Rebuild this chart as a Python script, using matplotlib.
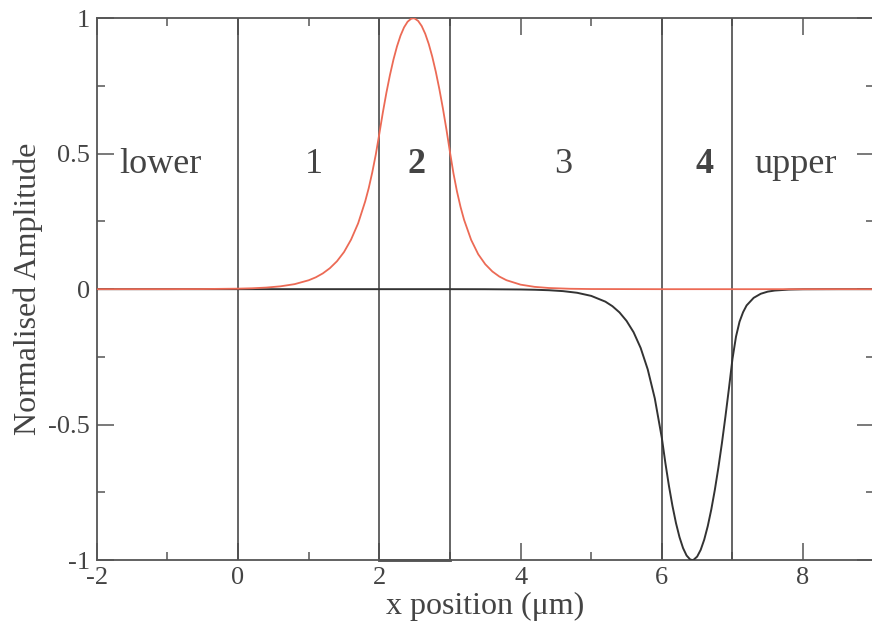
import matplotlib
matplotlib.use("Agg")
import matplotlib.pyplot as plt
from matplotlib.ticker import FixedLocator, FixedFormatter, MultipleLocator

plt.rcParams['font.family'] = ['Liberation Serif', 'DejaVu Serif']
plt.rcParams['mathtext.fontset'] = 'stix'

# ---- data ----
red_x = [-2.0, -1.0, -0.5, 0.0, 0.2, 0.4, 0.6, 0.8, 1.0, 1.1, 1.2, 1.3, 1.4, 1.5,
         1.6, 1.7, 1.8, 1.85, 1.9, 1.95, 2.0, 2.05, 2.1, 2.15, 2.2, 2.25, 2.3,
         2.35, 2.4, 2.45, 2.48, 2.5, 2.55, 2.6, 2.65, 2.7, 2.75, 2.8, 2.85, 2.9,
         2.95, 3.0, 3.05, 3.1, 3.15, 3.2, 3.3, 3.4, 3.5, 3.6, 3.7, 3.8, 4.0,
         4.2, 4.4, 4.7, 5.0, 6.0, 7.0, 8.0, 9.0]
red_y = [0.0, 0.0001, 0.0005, 0.0019, 0.0033, 0.0059, 0.0105, 0.0185, 0.0329,
         0.0437, 0.0582, 0.0775, 0.103, 0.137, 0.183, 0.243, 0.324, 0.373, 0.431,
         0.497, 0.5735, 0.6524, 0.7248, 0.7900, 0.8473, 0.8961, 0.9359, 0.9664,
         0.9872, 0.9982, 1.0, 0.9992, 0.9902, 0.9713, 0.9428, 0.9048, 0.8577,
         0.8021, 0.7385, 0.6675, 0.5898, 0.5062, 0.427, 0.360, 0.3035, 0.256,
         0.182, 0.129, 0.092, 0.0654, 0.0465, 0.0331, 0.0167, 0.0085, 0.0043,
         0.0015, 0.0005, 0.0, 0.0, 0.0, 0.0]

black_x = [-2.0, 0.0, 2.0, 3.0, 3.5, 4.0, 4.2, 4.4, 4.6, 4.8, 5.0, 5.2, 5.3, 5.4,
           5.5, 5.6, 5.7, 5.8, 5.9, 6.0, 6.05, 6.1, 6.15, 6.2, 6.25, 6.3, 6.35,
           6.4, 6.43, 6.45, 6.5, 6.55, 6.6, 6.65, 6.7, 6.75, 6.8, 6.85, 6.9,
           6.95, 7.0, 7.05, 7.1, 7.15, 7.2, 7.3, 7.4, 7.5, 7.6, 7.8, 8.0, 8.5, 9.0]
black_y = [0.0, 0.0, 0.0, 0.0, -0.0002, -0.0011, -0.0021, -0.0039, -0.0072,
           -0.0133, -0.0248, -0.046, -0.0628, -0.0857, -0.117, -0.159, -0.217,
           -0.296, -0.403, -0.5494, -0.6417, -0.7256, -0.7997, -0.8634, -0.9155,
           -0.9556, -0.9831, -0.9976, -1.0, -0.9989, -0.9871, -0.9622, -0.9245,
           -0.8747, -0.8133, -0.7412, -0.6594, -0.5693, -0.4706, -0.3661, -0.257,
           -0.175, -0.12, -0.085, -0.06, -0.032, -0.017, -0.009, -0.005, -0.0015,
           -0.0004, 0.0, 0.0]

boundaries = [0, 2, 3, 6, 7]
region_labels = ["lower", "1", "2", "3", "4", "upper"]
region_x = [-1.1, 1.08, 2.53, 4.6, 6.6, 7.9]
region_bold = [False, False, True, False, True, False]

x_ticks = [-2, 0, 2, 4, 6, 8]
x_ticklabels = ["-2", "0", "2", "4", "6", "8"]
y_ticks = [-1, -0.5, 0, 0.5, 1]
y_ticklabels = ["-1", "-0.5", "0", "0.5", "1"]

# ---- figure ----
fig = plt.figure(figsize=(8.72, 6.30), dpi=100)
ax = fig.add_axes([0.111, 0.111, 0.891, 0.860])

axis_col = '#555555'
text_col = '#444444'

for b in boundaries:
    ax.axvline(b, color='#4a4a4a', lw=1.2, zorder=2)
ax.plot([2, 3], [-1, -1], color='#4a4a4a', lw=2.0, zorder=2, clip_on=False)

ax.plot(black_x, black_y, color='#333333', lw=1.4, zorder=3)
ax.plot(red_x, red_y, color='#ec6a55', lw=1.3, zorder=4)

for lab, xx, bold in zip(region_labels, region_x, region_bold):
    ax.text(xx, 0.46, lab, ha='center', va='center', fontsize=26,
            color=text_col, fontweight='bold' if bold else 'normal')

ax.set_xlim(-2, 9)
ax.set_ylim(-1, 1)
ax.xaxis.set_major_locator(FixedLocator(x_ticks))
ax.xaxis.set_major_formatter(FixedFormatter(x_ticklabels))
ax.yaxis.set_major_locator(FixedLocator(y_ticks))
ax.yaxis.set_major_formatter(FixedFormatter(y_ticklabels))
ax.xaxis.set_minor_locator(MultipleLocator(1))
ax.yaxis.set_minor_locator(MultipleLocator(0.25))

ax.tick_params(which='both', direction='in', top=True, right=True,
               colors=axis_col, labelcolor=text_col)
ax.tick_params(which='major', length=12, width=1.1, labelsize=19, pad=5)
ax.tick_params(which='minor', length=6, width=1.1)

for s in ax.spines.values():
    s.set_color(axis_col)
    s.set_linewidth(1.3)

ax.set_xlabel('x position (μm)', fontsize=23, color=text_col, labelpad=2)
ax.set_ylabel('Normalised Amplitude', fontsize=23, color=text_col, labelpad=4)

fig.savefig('out.png', dpi=100)
